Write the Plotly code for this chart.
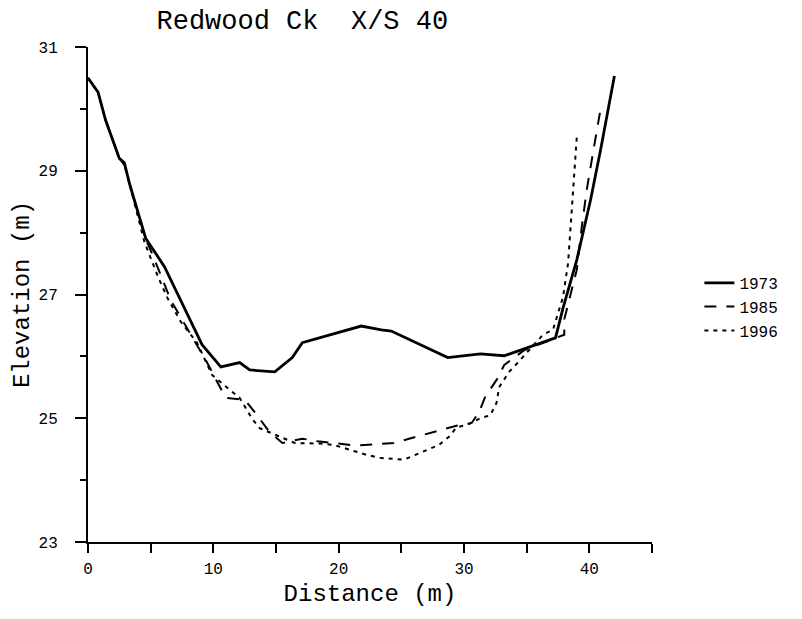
import plotly.graph_objects as go

# Redwood Creek cross-section 40, three survey years
dist_1973 = [0, 0.8, 1.4, 2.5, 2.9, 3.3, 4.6, 6.1, 9.1, 10.6, 12.1, 12.9, 14.9, 16.3, 17.1,
             21.8, 23.4, 24.2, 28.7, 31.3, 33.2, 35.1, 37.3, 37.9, 39.0, 40.1, 40.9, 42.0]
elev_1973 = [30.5, 30.27, 29.82, 29.2, 29.13, 28.8, 27.91, 27.45, 26.19, 25.83, 25.9, 25.78, 25.75, 25.98, 26.22,
             26.49, 26.43, 26.41, 25.98, 26.04, 26.01, 26.15, 26.3, 26.78, 27.56, 28.53, 29.34, 30.53]

dist_1985 = [0, 0.8, 1.4, 2.5, 2.9, 3.3, 4.6, 5.2, 6.6, 8.1, 9.5, 10.3, 11.0, 12.5, 13.3, 14.4,
             15.5, 17.1, 18.3, 21.3, 24.4, 29.4, 30.6, 31.2, 31.7, 32.7, 33.2, 34.8, 37.3, 38.0,
             38.0, 39.0, 39.4, 39.8, 40.3, 40.9]
elev_1985 = [30.5, 30.27, 29.82, 29.2, 29.1, 28.8, 27.9, 27.62, 26.91, 26.38, 25.9, 25.59, 25.33, 25.3, 25.1, 24.8,
             24.6, 24.67, 24.63, 24.56, 24.6, 24.88, 24.92, 25.1, 25.35, 25.65, 25.86, 26.1, 26.3, 26.35,
             26.6, 27.4, 28.1, 28.7, 29.3, 30.0]

dist_1996 = [0, 0.8, 1.4, 2.5, 2.9, 3.3, 4.5, 5.0, 5.6, 6.35, 7.4, 8.7, 9.9, 11.3, 12.1, 13.1,
             13.7, 16.5, 18.5, 19.6, 22.2, 23.3, 25.2, 28.0, 28.8, 29.4, 30.3, 31.3, 32.1, 32.6,
             32.8, 33.6, 34.3, 36.3, 37.1, 37.9, 38.3, 38.6, 39.0]
elev_1996 = [30.5, 30.27, 29.82, 29.2, 29.1, 28.8, 27.85, 27.6, 27.28, 26.94, 26.56, 26.22, 25.7, 25.46, 25.33, 24.99,
             24.84, 24.6, 24.59, 24.57, 24.41, 24.36, 24.33, 24.57, 24.7, 24.85, 24.9, 25.0, 25.05, 25.25,
             25.5, 25.75, 25.9, 26.35, 26.43, 26.96, 27.5, 28.37, 29.55]

x_ticks = [0, 10, 20, 30, 40]
y_ticks = [23, 25, 27, 29, 31]

FONT = "Liberation Mono"

fig = go.Figure()
fig.add_scatter(x=dist_1973, y=elev_1973, name="1973", mode="lines",
                line=dict(color="black", width=2.8))
fig.add_scatter(x=dist_1985, y=elev_1985, name="1985", mode="lines",
                line=dict(color="black", width=2, dash="12px,10px"))
fig.add_scatter(x=dist_1996, y=elev_1996, name="1996", mode="lines",
                line=dict(color="black", width=2, dash="4px,5px"))

axis_common = dict(showgrid=False, zeroline=False, showline=True, linecolor="black",
                   linewidth=2, ticks="outside", tickcolor="black", tickwidth=2,
                   tickfont=dict(family=FONT, size=16, color="black"))

fig.update_layout(
    width=802, height=619,
    paper_bgcolor="white", plot_bgcolor="white",
    margin=dict(l=77, r=158, t=39, b=85, pad=0),
    font=dict(family=FONT, color="black"),
    title=dict(text="Redwood Ck  X/S 40", x=0.367, xanchor="center",
               y=0.981, yanchor="middle", font=dict(family=FONT, size=27)),
    xaxis=dict(range=[0, 45], tickvals=x_ticks, ticklen=9, ticklabelstandoff=2,
               minor=dict(dtick=5, ticklen=9, tickcolor="black", tickwidth=2, ticks="outside"),
               title=dict(text="Distance (m)", font=dict(family=FONT, size=24), standoff=6),
               **axis_common),
    yaxis=dict(range=[23, 31], tickvals=y_ticks, ticklen=11, ticklabelstandoff=14,
               minor=dict(dtick=1, ticklen=6, tickcolor="black", tickwidth=2, ticks="outside"),
               title=dict(text="Elevation (m)", font=dict(family=FONT, size=24), standoff=2),
               **axis_common),
    legend=dict(x=1.084, xanchor="left", y=0.475, yanchor="middle",
                font=dict(family=FONT, size=16), bgcolor="rgba(0,0,0,0)", borderwidth=0),
)

fig.write_html("out.html")
